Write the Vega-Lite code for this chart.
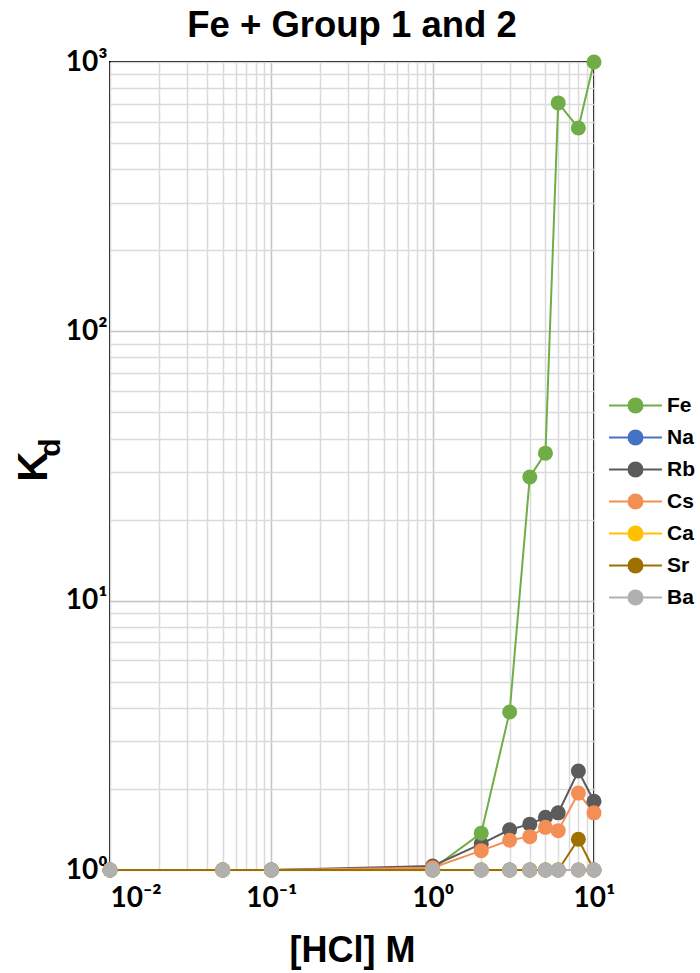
{
  "$schema": "https://vega.github.io/schema/vega-lite/v6.json",
  "width": 484,
  "height": 808,
  "autosize": "none",
  "padding": {"left": 110, "top": 62, "right": 106, "bottom": 103},
  "background": "white",
  "title": {
    "text": "Fe + Group 1 and 2",
    "font": "Liberation Sans",
    "fontSize": 36.5,
    "fontWeight": "bold",
    "color": "#000000",
    "anchor": "middle",
    "offset": 4
  },
  "config": {
    "view": {"stroke": "#000000", "strokeWidth": 2}
  },
  "data": {
    "values": [
      {"series": "Fe", "hcl": 0.01, "kd": 1},
      {"series": "Fe", "hcl": 0.05, "kd": 1},
      {"series": "Fe", "hcl": 0.1, "kd": 1},
      {"series": "Fe", "hcl": 1, "kd": 1.01},
      {"series": "Fe", "hcl": 2, "kd": 1.37},
      {"series": "Fe", "hcl": 3, "kd": 3.86},
      {"series": "Fe", "hcl": 4, "kd": 28.8},
      {"series": "Fe", "hcl": 5, "kd": 35.3},
      {"series": "Fe", "hcl": 6, "kd": 705},
      {"series": "Fe", "hcl": 8, "kd": 569},
      {"series": "Fe", "hcl": 10, "kd": 1000},
      {"series": "Na", "hcl": 0.01, "kd": 1},
      {"series": "Na", "hcl": 0.05, "kd": 1},
      {"series": "Na", "hcl": 0.1, "kd": 1},
      {"series": "Na", "hcl": 1, "kd": 1},
      {"series": "Na", "hcl": 2, "kd": 1},
      {"series": "Na", "hcl": 3, "kd": 1},
      {"series": "Na", "hcl": 4, "kd": 1},
      {"series": "Na", "hcl": 5, "kd": 1},
      {"series": "Na", "hcl": 6, "kd": 1},
      {"series": "Na", "hcl": 8, "kd": 1},
      {"series": "Na", "hcl": 10, "kd": 1},
      {"series": "Rb", "hcl": 0.01, "kd": 1},
      {"series": "Rb", "hcl": 0.05, "kd": 1},
      {"series": "Rb", "hcl": 0.1, "kd": 1},
      {"series": "Rb", "hcl": 1, "kd": 1.035},
      {"series": "Rb", "hcl": 2, "kd": 1.25},
      {"series": "Rb", "hcl": 3, "kd": 1.41},
      {"series": "Rb", "hcl": 4, "kd": 1.48},
      {"series": "Rb", "hcl": 5, "kd": 1.57},
      {"series": "Rb", "hcl": 6, "kd": 1.63},
      {"series": "Rb", "hcl": 8, "kd": 2.33},
      {"series": "Rb", "hcl": 10, "kd": 1.8},
      {"series": "Cs", "hcl": 0.01, "kd": 1},
      {"series": "Cs", "hcl": 0.05, "kd": 1},
      {"series": "Cs", "hcl": 0.1, "kd": 1},
      {"series": "Cs", "hcl": 1, "kd": 1.02},
      {"series": "Cs", "hcl": 2, "kd": 1.18},
      {"series": "Cs", "hcl": 3, "kd": 1.29},
      {"series": "Cs", "hcl": 4, "kd": 1.33},
      {"series": "Cs", "hcl": 5, "kd": 1.44},
      {"series": "Cs", "hcl": 6, "kd": 1.4},
      {"series": "Cs", "hcl": 8, "kd": 1.93},
      {"series": "Cs", "hcl": 10, "kd": 1.63},
      {"series": "Ca", "hcl": 0.01, "kd": 1},
      {"series": "Ca", "hcl": 0.05, "kd": 1},
      {"series": "Ca", "hcl": 0.1, "kd": 1},
      {"series": "Ca", "hcl": 1, "kd": 1},
      {"series": "Ca", "hcl": 2, "kd": 1},
      {"series": "Ca", "hcl": 3, "kd": 1},
      {"series": "Ca", "hcl": 4, "kd": 1},
      {"series": "Ca", "hcl": 5, "kd": 1},
      {"series": "Ca", "hcl": 6, "kd": 1},
      {"series": "Ca", "hcl": 8, "kd": 1},
      {"series": "Ca", "hcl": 10, "kd": 1},
      {"series": "Ba", "hcl": 0.01, "kd": 1},
      {"series": "Ba", "hcl": 0.05, "kd": 1},
      {"series": "Ba", "hcl": 0.1, "kd": 1},
      {"series": "Ba", "hcl": 1, "kd": 1},
      {"series": "Ba", "hcl": 2, "kd": 1},
      {"series": "Ba", "hcl": 3, "kd": 1},
      {"series": "Ba", "hcl": 4, "kd": 1},
      {"series": "Ba", "hcl": 5, "kd": 1},
      {"series": "Ba", "hcl": 6, "kd": 1},
      {"series": "Ba", "hcl": 8, "kd": 1},
      {"series": "Ba", "hcl": 10, "kd": 1},
      {"series": "Sr", "hcl": 0.01, "kd": 1},
      {"series": "Sr", "hcl": 0.05, "kd": 1},
      {"series": "Sr", "hcl": 0.1, "kd": 1},
      {"series": "Sr", "hcl": 1, "kd": 1},
      {"series": "Sr", "hcl": 2, "kd": 1},
      {"series": "Sr", "hcl": 3, "kd": 1},
      {"series": "Sr", "hcl": 4, "kd": 1},
      {"series": "Sr", "hcl": 5, "kd": 1},
      {"series": "Sr", "hcl": 6, "kd": 1},
      {"series": "Sr", "hcl": 8, "kd": 1.3},
      {"series": "Sr", "hcl": 10, "kd": 1}
    ]
  },
  "encoding": {
    "x": {
      "field": "hcl",
      "type": "quantitative",
      "scale": {"type": "log", "domain": [0.01, 10], "nice": false},
      "axis": {
        "values": [0.01, 0.02, 0.03, 0.04, 0.05, 0.06, 0.07, 0.08, 0.09, 0.1, 0.2, 0.3, 0.4, 0.5, 0.6, 0.7, 0.8, 0.9, 1, 2, 3, 4, 5, 6, 7, 8, 9, 10],
        "labelExpr": "datum.value === 0.01 ? '10⁻²' : datum.value === 0.1 ? '10⁻¹' : datum.value === 1 ? '10⁰' : datum.value === 10 ? '10¹' : ''",
        "ticks": false,
        "domain": false,
        "grid": true,
        "gridColor": {"condition": {"test": "datum.value === 0.1 || datum.value === 1", "value": "#c4c4c4"}, "value": "#dadada"},
        "gridWidth": 1.5,
        "labelFont": "Lato",
        "labelFontSize": 28,
        "labelFontWeight": "bold",
        "labelColor": "#000000",
        "labelPadding": 14,
        "labelAlign": {"condition": {"test": "datum.value === 0.01", "value": "left"}, "value": "center"},
        "labelFlush": false,
        "labelOverlap": false,
        "title": "[HCl] M",
        "titleFont": "Liberation Sans",
        "titleFontSize": 36,
        "titleFontWeight": "bold",
        "titleColor": "#000000",
        "titlePadding": 21
      }
    },
    "color": {
      "field": "series",
      "type": "nominal",
      "scale": {
        "domain": ["Fe", "Na", "Rb", "Cs", "Ca", "Sr", "Ba"],
        "range": ["#70AD47", "#4472C4", "#5B5B5B", "#F38F55", "#FFC000", "#9E7000", "#B0B0B0"]
      },
      "legend": {
        "title": null,
        "orient": "none",
        "legendX": 515,
        "legendY": 333,
        "symbolType": "M-3.78,0H3.78M1,0A1,1,0,1,1,-1,0A1,1,0,1,1,1,0Z",
        "symbolSize": 196,
        "symbolStrokeWidth": 2,
        "labelFont": "Liberation Sans",
        "labelFontSize": 21,
        "labelFontWeight": "bold",
        "labelColor": "#000000",
        "labelOffset": 21,
        "rowPadding": 9
      }
    }
  },
  "layer": [
    {
      "mark": {"type": "line", "strokeWidth": 2},
      "encoding": {
        "y": {
          "field": "kd",
          "type": "quantitative",
          "scale": {"type": "log", "domain": [1, 1000], "nice": false},
          "axis": {
            "values": [1, 2, 3, 4, 5, 6, 7, 8, 9, 10, 20, 30, 40, 50, 60, 70, 80, 90, 100, 200, 300, 400, 500, 600, 700, 800, 900, 1000],
            "labelExpr": "datum.value === 1 ? '10⁰' : datum.value === 10 ? '10¹' : datum.value === 100 ? '10²' : datum.value === 1000 ? '10³' : ''",
            "ticks": false,
            "domain": false,
            "grid": true,
            "gridColor": {"condition": {"test": "datum.value === 10 || datum.value === 100", "value": "#c4c4c4"}, "value": "#dadada"},
            "gridWidth": 1.5,
            "labelFont": "Lato",
            "labelFontSize": 28,
            "labelFontWeight": "bold",
            "labelColor": "#000000",
            "labelPadding": 3,
            "labelFlush": false,
            "labelOverlap": false,
            "title": "K",
            "titleFont": "Liberation Sans",
            "titleFontSize": 42,
            "titleFontWeight": "bold",
            "titleColor": "#000000",
            "titleAngle": 270,
            "titleAlign": "center",
            "titleBaseline": "alphabetic",
            "titleX": -64,
            "titleY": 404
          }
        }
      }
    },
    {
      "mark": {"type": "point", "filled": true, "size": 225, "opacity": 1},
      "encoding": {
        "y": {
          "field": "kd",
          "type": "quantitative",
          "axis": {
            "orient": "right",
            "labels": false,
            "ticks": false,
            "domain": false,
            "grid": false,
            "title": "d",
            "titleFont": "Liberation Sans",
            "titleFontSize": 30,
            "titleFontWeight": "bold",
            "titleColor": "#000000",
            "titleAngle": 270,
            "titleAlign": "center",
            "titleBaseline": "alphabetic",
            "titleX": -535,
            "titleY": 385
          }
        },
        "order": {"field": "series", "sort": "descending"}
      }
    }
  ],
  "resolve": {"axis": {"y": "independent"}}
}
